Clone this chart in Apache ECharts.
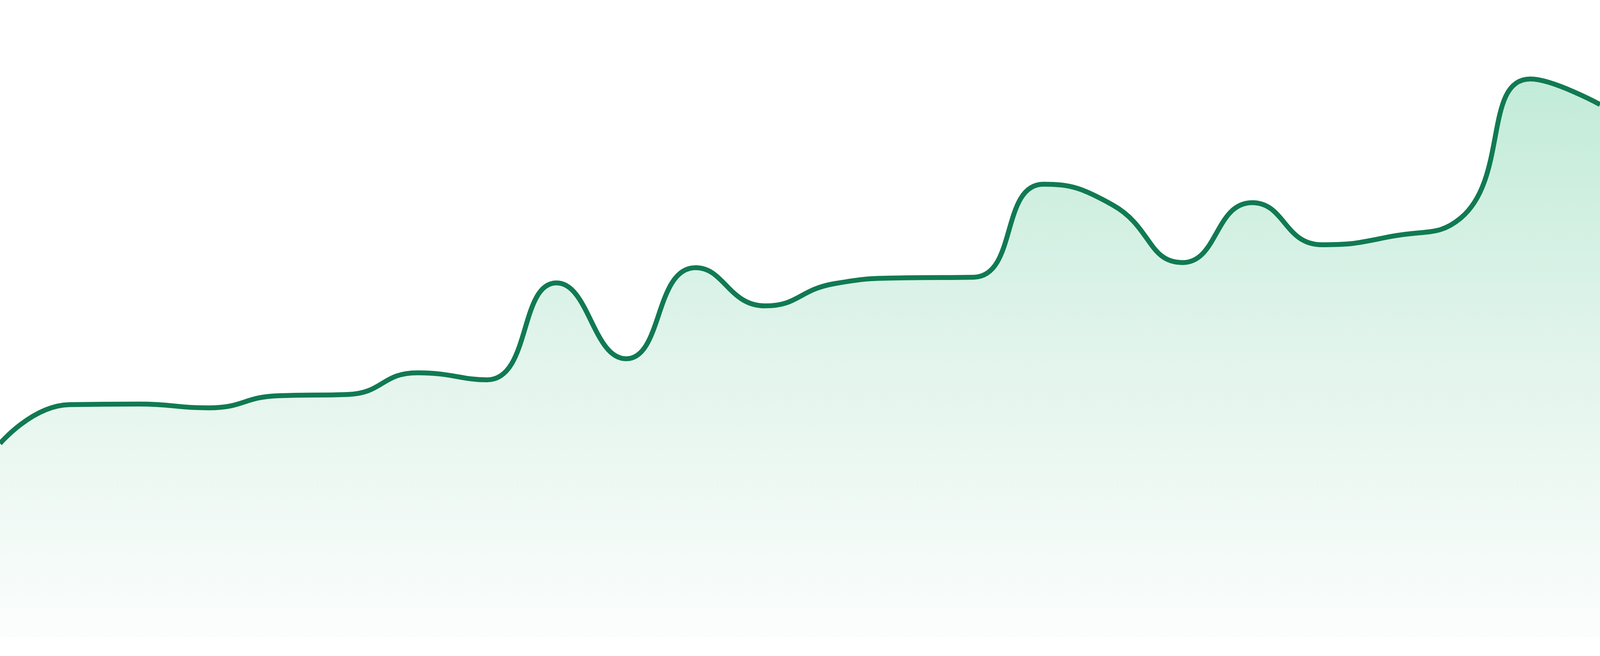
<!DOCTYPE html>
<html>
<head>
<meta charset="utf-8">
<script src="https://cdn.jsdelivr.net/npm/echarts@6/dist/echarts.min.js"></script>
<style>
  html, body { margin: 0; padding: 0; background: #ffffff; overflow: hidden; }
  #chart { width: 100vw; height: 100vh; }
</style>
</head>
<body>
<div id="chart"></div>
<script>
// one point per step, axis hidden
const categories = ['1', '2', '3', '4', '5', '6', '7', '8', '9', '10', '11', '12',
  '13', '14', '15', '16', '17', '18', '19', '20', '21', '22', '23', '24'];
const values = [30.4, 36.5, 36.6, 36.0, 37.9, 38.1, 41.5, 40.4, 55.6, 43.7, 58.0, 52.0,
  55.5, 56.4, 56.5, 71.1, 67.8, 58.8, 68.2, 61.6, 62.9, 65.8, 87.6, 83.6];

const el = document.getElementById('chart');
const chart = echarts.init(el);
const h = el.clientHeight;

chart.setOption({
  animation: false,
  grid: { left: 0, right: 0, top: 0, bottom: Math.round(h * 48 / 1680) },
  xAxis: {
    type: 'category',
    data: categories,
    boundaryGap: false,
    show: false
  },
  yAxis: {
    type: 'value',
    min: 0,
    max: 100,
    show: false
  },
  series: [
    {
      type: 'line',
      data: values,
      smooth: true,
      symbol: 'none',
      lineStyle: { color: '#117a52', width: h * 12.5 / 1680 },
      areaStyle: {
        color: new echarts.graphic.LinearGradient(0, 0, 0, 1, [
          { offset: 0, color: '#a7e2c8' },
          { offset: 0.5, color: '#d5efe3' },
          { offset: 1, color: '#f9fcfb' }
        ])
      }
    }
  ]
});
</script>
</body>
</html>
